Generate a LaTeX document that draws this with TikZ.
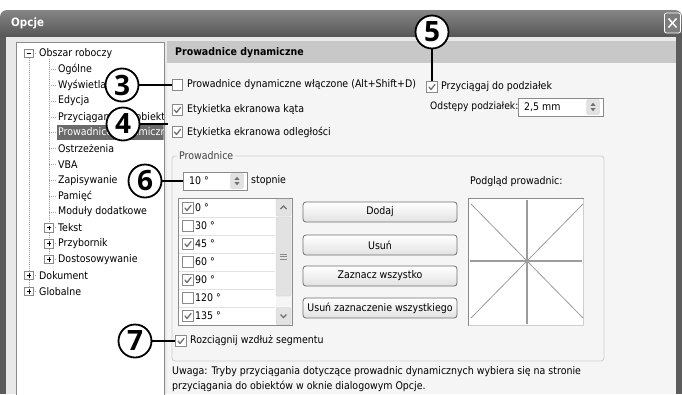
\documentclass[tikz,border=0pt]{standalone}
\usepackage{fontspec}
\setmainfont{DejaVu Sans Condensed}
\newfontfamily\numfont{Open Sans}
\usetikzlibrary{calc}

\definecolor{frame}{HTML}{5C5C5C}
\definecolor{tbtop}{HTML}{858585}
\definecolor{tbbot}{HTML}{565656}
\definecolor{winbg}{HTML}{E9E9E9}
\definecolor{panebg}{HTML}{F5F5F5}
\definecolor{hdr}{HTML}{C8C8C8}
\definecolor{border}{HTML}{8A8A8A}
\definecolor{sepline}{HTML}{E2E2E2}
\definecolor{sel}{HTML}{6A6A6A}
\definecolor{guide}{HTML}{9C9C9C}
\definecolor{tickc}{HTML}{707070}
\definecolor{grp}{HTML}{CFCFCF}
\definecolor{btnline}{HTML}{707070}

\tikzset{
  ui/.style={font=\fontsize{10.5}{12}\selectfont, inner sep=0pt, anchor=west, text=black},
  chk/.style={draw=border, fill=white, minimum size=10.5pt, inner sep=0pt, line width=0.8pt},
  tickmark/.style={draw=tickc, line width=1.3pt, line cap=round, line join=round},
  xbox/.style={draw=border, fill=white, minimum size=8.5pt, inner sep=0pt, line width=0.7pt},
  sign/.style={draw=black, line width=0.8pt},
  treeline/.style={draw=guide, line width=0.8pt, dash pattern=on 1pt off 1pt},
  tbox/.style={draw=border, fill=white, line width=0.8pt, inner sep=0pt},
  spinb/.style={draw=grp, fill=sepline, rounded corners=2pt, minimum width=13pt, minimum height=15pt, inner sep=0pt},
  sbbtn/.style={draw=grp, fill=sepline, rounded corners=2pt, minimum width=15pt, inner sep=0pt},
  btn/.style={draw=btnline, rounded corners=3pt, top color=white, bottom color=sepline,
    minimum width=154pt, minimum height=20pt, inner sep=0pt, line width=0.8pt,
    font=\fontsize{10.5}{12}\selectfont},
  callout/.style={circle, draw=black, line width=1.8pt, fill=white, minimum size=33pt,
    inner sep=0pt, font=\numfont\bfseries\fontsize{28}{28}\selectfont},
  lead/.style={draw=black, line width=1.6pt}
}

% check mark inside a named check box
\newcommand\tickin[1]{\draw[tickmark] ($(#1.center)+(-3,0)$) -- ($(#1.center)+(-1,2.5)$) -- ($(#1.center)+(3,-2.6)$);}
% up/down arrows of a spin button
\newcommand\spinarrows[1]{%
  \fill[tickc] ($(#1.center)+(-2.5,-1.2)$) -- ($(#1.center)+(2.5,-1.2)$) -- ($(#1.center)+(0,-4.2)$) -- cycle;
  \fill[tickc] ($(#1.center)+(-2.5,1.2)$) -- ($(#1.center)+(2.5,1.2)$) -- ($(#1.center)+(0,4.2)$) -- cycle;}

\begin{document}
\begin{tikzpicture}[x=1pt,y=-1pt]
\useasboundingbox (0,0) rectangle (682,394);
\fill[white] (0,0) rectangle (682,394);

% window frame, title bar and body
\fill[frame] (0,30) rectangle (682,394);
\shade[top color=tbtop, bottom color=tbbot] (0,37) [rounded corners=7pt] -- (0,10) -- (682,10) [sharp corners] -- (682,37) -- cycle;
\fill[winbg] (6,37) rectangle (676,394);
\node[font=\bfseries\fontsize{11.5}{13}\selectfont, text=white, anchor=west, inner sep=0pt] (title) at (11,23) {Opcje};
\node[draw=white, rounded corners=2pt, fill=frame!80!white, minimum width=16pt, minimum height=20pt, inner sep=0pt, line width=0.8pt] (close) at (672.5,23) {};
\draw[white, line width=1.5pt] ($(close.center)+(-4,-4.5)$) -- ($(close.center)+(4,4.5)$);
\draw[white, line width=1.5pt] ($(close.center)+(4,-4.5)$) -- ($(close.center)+(-4,4.5)$);

% tree panel
\draw[border, fill=white, line width=0.8pt] (16,42) rectangle (164,398);
\begin{scope}
\clip (16.5,42.5) rectangle (163.5,394);
\pgfmathsetmacro\ya{53.5}
\pgfmathsetmacro\yk{53.5+15.85*13}
\pgfmathsetmacro\yn{53.5+15.85*15}
\draw[treeline] (29,\ya) -- (29,\yn);
\draw[treeline] (49,\ya+5) -- (49,\yk);
% leaf items
\foreach \i/\t in {1/Ogólne,2/Wyświetlanie,3/Edycja,4/Przyciąganie do obiektów,6/Ostrzeżenia,7/VBA,8/Zapisywanie,9/Pamięć,10/Moduły dodatkowe}{
  \pgfmathsetmacro\yy{53.5+15.85*\i}
  \draw[treeline] (49,\yy) -- (56,\yy);
  \node[ui] (t\i) at (58,\yy) {\t};
}
% selected item
\pgfmathsetmacro\yy{53.5+15.85*5}
\draw[treeline] (49,\yy) -- (56,\yy);
\fill[sel] (56.5,\yy-7.5) rectangle (164,\yy+7.5);
\node[ui, text=white] (t5) at (58,\yy) {Prowadnice dynamiczne};
% collapsed sub-items
\foreach \i/\t in {11/Tekst,12/Przybornik,13/Dostosowywanie}{
  \pgfmathsetmacro\yy{53.5+15.85*\i}
  \draw[treeline] (53,\yy) -- (56,\yy);
  \node[xbox] (b\i) at (49,\yy) {};
  \draw[sign] (b\i.center) +(-2.3,0) -- +(2.3,0);
  \draw[sign] (b\i.center) +(0,-2.3) -- +(0,2.3);
  \node[ui] (t\i) at (58,\yy) {\t};
}
% top-level items
\foreach \i/\t/\s in {0/Obszar roboczy/0,14/Dokument/1,15/Globalne/1}{
  \pgfmathsetmacro\yy{53.5+15.85*\i}
  \draw[treeline] (33,\yy) -- (37,\yy);
  \node[xbox] (b\i) at (29,\yy) {};
  \draw[sign] (b\i.center) +(-2.3,0) -- +(2.3,0);
  \ifnum\s=1 \draw[sign] (b\i.center) +(0,-2.3) -- +(0,2.3);\fi
  \node[ui] (t\i) at (39,\yy) {\t};
}
\end{scope}

% right pane
\fill[panebg] (167,41) rectangle (676,394);
\fill[hdr] (167,41) rectangle (676,63);
\node[ui, font=\bfseries\fontsize{10.5}{12}\selectfont] (head) at (175,53) {Prowadnice dynamiczne};

\node[chk] (chk1) at (177.5,85) {};
\node[ui] (lab1) at (187,85) {Prowadnice dynamiczne włączone (Alt+Shift+D)};
\node[chk] (chk2) at (177.5,110) {}; \tickin{chk2}
\node[ui] (lab2) at (187,110) {Etykietka ekranowa kąta};
\node[chk] (chk3) at (177.5,132) {}; \tickin{chk3}
\node[ui] (lab3) at (187,132) {Etykietka ekranowa odległości};
\node[chk] (chk5) at (432,87) {}; \tickin{chk5}
\node[ui] (lab5) at (441,87) {Przyciągaj do podziałek};
\node[ui, font=\fontsize{10.2}{12}\selectfont] (labsp) at (430,107) {Odstępy podziałek:};
\node[tbox, minimum width=85pt, minimum height=18pt] (spacing) at (560.5,107) {};
\node[ui] (spacingval) at (524,107) {2,5 mm};
\node[spinb] (spin2) at (593,107) {}; \spinarrows{spin2}

% group box
\draw[grp, line width=0.8pt, rounded corners=3pt] (172,156) rectangle (604,361);
\node[ui, fill=panebg, inner xsep=2pt, text=black!75] (grplab) at (177,156) {Prowadnice};

\node[tbox, minimum width=64pt, minimum height=18pt] (deg) at (215,181) {};
\node[ui] (degval) at (189,181) {10 °};
\node[spinb] (spin1) at (237,181) {}; \spinarrows{spin1}
\node[ui] (degunit) at (251,181) {stopnie};

% angle list
\node[tbox, minimum width=114pt, minimum height=127pt, anchor=north west] (list) at (178,198) {};
\foreach \k/\a/\c in {0/0/1,1/30/0,2/45/1,3/60/0,4/90/1,5/120/0,6/135/1}{
  \pgfmathsetmacro\yy{208+18*\k}
  \ifnum\k<6 \draw[sepline, line width=0.8pt] (179,\yy+9) -- (275,\yy+9);\fi
  \node[chk] (l\k) at (188,\yy) {};
  \ifnum\c=1 \tickin{l\k}\fi
  \node[ui] (lt\k) at (195,\yy) {\a{} °};
}
\fill[panebg] (275.5,198.5) rectangle (291.5,324.5);
\node[sbbtn, minimum height=17pt] (sbup) at (283.5,207.5) {};
\draw[tickc, line width=1.2pt] ($(sbup.center)+(-3,1.5)$) -- ($(sbup.center)+(0,-1.5)$) -- ($(sbup.center)+(3,1.5)$);
\node[sbbtn, minimum height=79pt] (thumb) at (283.5,256.5) {};
\foreach \d in {-2.5,0,2.5} \draw[border, line width=0.6pt] ($(thumb.center)+(-3.5,\d)$) -- ($(thumb.center)+(3.5,\d)$);
\node[sbbtn, minimum height=17pt] (sbdown) at (283.5,316) {};
\draw[tickc, line width=1.2pt] ($(sbdown.center)+(-3,-1.5)$) -- ($(sbdown.center)+(0,1.5)$) -- ($(sbdown.center)+(3,-1.5)$);

% buttons
\node[btn] (add) at (380,212) {Dodaj};
\node[btn] (remove) at (380,245) {Usuń};
\node[btn] (selall) at (380,276) {Zaznacz wszystko};
\node[btn] (deselall) at (380,308) {Usuń zaznaczenie wszystkiego};

% preview
\node[ui] (prevlab) at (470,182) {Podgląd prowadnic:};
\node[draw=grp, fill=white, line width=0.8pt, minimum width=115pt, minimum height=127pt, inner sep=0pt, anchor=north west] (prev) at (468,198) {};
\draw[border, line width=0.8pt] (prev.south west) -- (prev.north west) -- (prev.north east);
\draw[guide, line width=0.8pt] (471,204) -- (583,318);
\draw[guide, line width=0.8pt] (583,204) -- (471,318);
\draw[guide, line width=1.7pt] (527,199.5) -- (527,323.5);
\draw[guide, line width=1.7pt] (469.5,261) -- (582,261);

\node[chk] (chk7) at (181,341) {}; \tickin{chk7}
\node[ui] (lab7) at (190,341) {Rozciągnij wzdłuż segmentu};

\node[ui] (note1) at (172,372) {Uwaga: Tryby przyciągania dotyczące prowadnic dynamicznych wybiera się na stronie};
\node[ui] (note2) at (172,386) {przyciągania do obiektów w oknie dialogowym Opcje.};

% numbered callouts
\node[callout] (c3) at (122,85) {3};
\node[callout] (c4) at (123,124) {4};
\node[callout] (c5) at (432,32) {5};
\node[callout] (c6) at (145,181) {6};
\node[callout] (c7) at (135,341) {7};
\coordinate (p4) at (168,124);
\draw[lead] (c3.east) -- (chk1.west);
\draw[lead] (c4.east) -- (p4);
\draw[lead] (c5.south) -- (chk5.north);
\draw[lead] (c6.east) -- (deg.west);
\draw[lead] (c7.east) -- (chk7.west);
\end{tikzpicture}
\end{document}
